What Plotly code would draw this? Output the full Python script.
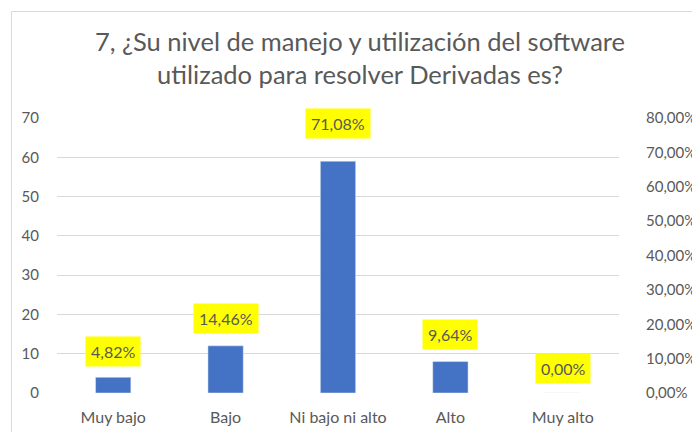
import plotly.graph_objects as go

categories = ["Muy bajo", "Bajo", "Ni bajo ni alto", "Alto", "Muy alto"]
counts = [4, 12, 59, 8, 0]
percents = [0.0482, 0.1446, 0.7108, 0.0964, 0.0000]
pct_labels = ["4,82%", "14,46%", "71,08%", "9,64%", "0,00%"]

FONT = "Lato"
GRAY = "#595959"
# page body has an 8px margin: compensate in layout
OFF = 8
L, R, T, B = 57 - OFF, 700 - 631 + OFF, 118 - OFF, 432 - 393 + OFF
PW, PH = 700 - L - R, 432 - T - B

fig = go.Figure()
fig.add_trace(go.Bar(x=categories, y=counts, marker_color="#4472C4",
                     width=0.314, showlegend=False, hoverinfo="skip"))
fig.add_trace(go.Scatter(x=categories, y=percents, yaxis="y2", mode="markers",
                         marker=dict(opacity=0), showlegend=False, hoverinfo="skip"))

for c, p, t in zip(categories, percents, pct_labels):
    fig.add_annotation(x=c, y=p, yref="y2", text=t, showarrow=False, yshift=25,
                       bgcolor="#FFFF00", borderpad=5,
                       font=dict(family=FONT, size=16, color=GRAY))

fig.add_shape(type="rect", xref="paper", yref="paper",
              x0=(10.5 - OFF - L) / PW, x1=1.5, y0=-0.6, y1=1 + (T - (11.5 - OFF)) / PH,
              line=dict(color="#D9D9D9", width=1), fillcolor="rgba(0,0,0,0)", layer="below")

fig.update_layout(
    width=700, height=432,
    margin=dict(l=L, r=R, t=T, b=B),
    paper_bgcolor="white", plot_bgcolor="white",
    separators=",.",
    title=dict(text="7, ¿Su nivel de manejo y utilización del software<br>utilizado para resolver Derivadas es?",
               x=(360 - OFF) / 700, xref="container", xanchor="center",
               y=1 - 43 / 432, yref="container", yanchor="top",
               font=dict(family=FONT, size=25.5, color=GRAY)),
    xaxis=dict(showgrid=False, showline=False, ticks="", zeroline=False, ticklabelstandoff=13,
               tickfont=dict(family=FONT, size=16, color=GRAY)),
    yaxis=dict(range=[0, 70], dtick=10, showgrid=True, gridcolor="#D9D9D9", gridwidth=1,
               zeroline=False, showline=False, ticks="", ticklabelstandoff=17,
               tickfont=dict(family=FONT, size=15, color=GRAY)),
    yaxis2=dict(range=[0, 0.8], dtick=0.1, tickformat=".2%", overlaying="y", side="right",
                showgrid=False, zeroline=False, showline=False,
                ticks="", ticklabelstandoff=26, ticklabeloverflow="allow",
                tickfont=dict(family=FONT, size=15, color=GRAY)),
)

fig.write_html("out.html")
